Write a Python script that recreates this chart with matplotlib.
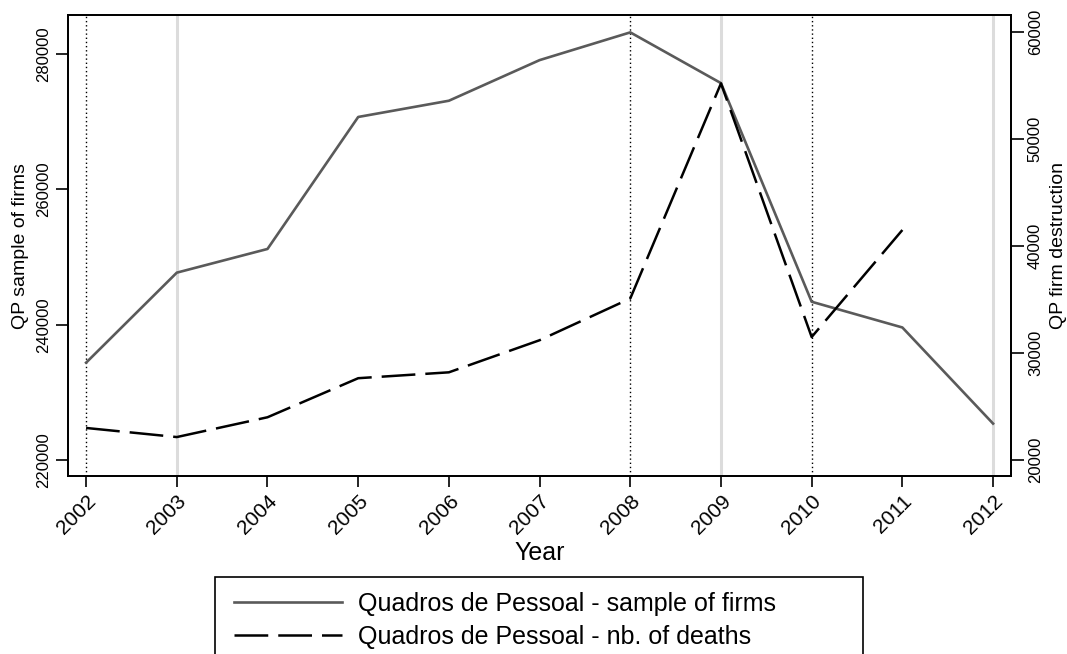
import matplotlib
matplotlib.use("Agg")
import matplotlib.pyplot as plt
from matplotlib.patches import Rectangle

plt.rcParams['font.family'] = ['Liberation Sans', 'DejaVu Sans']

years = [2002, 2003, 2004, 2005, 2006, 2007, 2008, 2009, 2010, 2011, 2012]
# QP sample of firms (left axis)
firms = [234400, 247700, 251200, 270700, 273100, 279100, 283200, 275700, 243400, 239600, 225400]
# QP firm destruction (right axis), no value for 2012
deaths_years = [2002, 2003, 2004, 2005, 2006, 2007, 2008, 2009, 2010, 2011]
deaths = [23000, 22150, 24000, 27650, 28200, 31200, 35100, 55200, 31500, 41500]

gray_lines = [2003, 2009, 2012]
dotted_lines = [2002, 2008, 2010]

left_ticks = [220000, 240000, 260000, 280000]
right_ticks = [20000, 30000, 40000, 50000, 60000]

fig = plt.figure(figsize=(10.67, 6.54), dpi=100)
ax = fig.add_axes([0.0637, 0.272, 0.884, 0.705])
ax2 = ax.twinx()

for x in gray_lines:
    ax.axvline(x, color='#dcdcdc', lw=2.2, zorder=0)
for x in dotted_lines:
    ax.axvline(x, color='black', lw=1.0, ls=(0, (1, 2)), zorder=1)

l1, = ax.plot(years, firms, color='#5a5a5a', lw=1.9, zorder=3,
              label='Quadros de Pessoal - sample of firms')
l2, = ax2.plot(deaths_years, deaths, color='black', lw=1.8, dashes=(13.5, 4),
               label='Quadros de Pessoal - nb. of deaths')

ax.set_xlim(2001.8, 2012.2)
ax.set_ylim(217640, 285760)
ax2.set_ylim(18500, 61590)

ax.set_xticks(years)
ax.set_xticklabels([str(y) for y in years], rotation=45, ha='right',
                   rotation_mode='anchor', fontsize=15)
ax.set_yticks(left_ticks)
ax.set_yticklabels([str(v) for v in left_ticks], rotation=90, va='center', fontsize=12)
ax2.set_yticks(right_ticks)
ax2.set_yticklabels([str(v) for v in right_ticks], rotation=90, va='center', fontsize=12)

ax.tick_params(axis='x', length=8, width=1.2, pad=3)
ax.tick_params(axis='y', length=9, width=1.2, pad=3)
ax2.tick_params(axis='y', length=9, width=1.2, pad=3)

for a in (ax, ax2):
    for s in a.spines.values():
        s.set_linewidth(1.3)

ax.set_xlabel('Year', fontsize=18, labelpad=2)
ax.set_ylabel('QP sample of firms', fontsize=14, labelpad=5)
ax2.set_ylabel('QP firm destruction', fontsize=14, rotation=90, labelpad=5)

# legend box (Stata style, running off the bottom edge)
fig.patches.append(Rectangle((215 / 1067, -0.05), (863 - 215) / 1067, (654 - 577) / 654 + 0.05,
                             transform=fig.transFigure, fill=False, edgecolor='black', lw=1.2))
fig.legend(handles=[l1, l2], loc='upper left', bbox_to_anchor=(224 / 1067, 1 - 582 / 654),
           frameon=False, fontsize=18, handlelength=4.3, handletextpad=0.65,
           labelspacing=0.35, borderaxespad=0)

fig.savefig('out.png', dpi=100)
